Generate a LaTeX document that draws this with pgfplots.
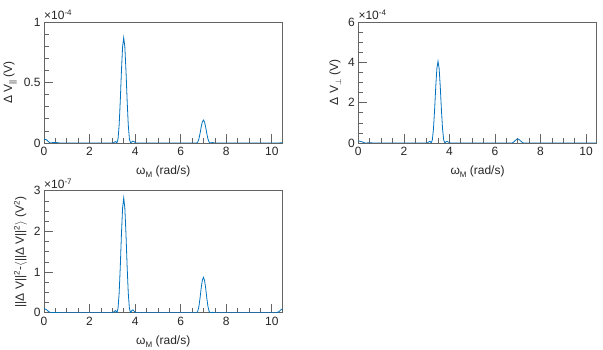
\documentclass[border=0pt]{standalone}
\usepackage{fontspec}
\setmainfont{Liberation Sans}
\usepackage{pgfplots}
\pgfplotsset{compat=1.18}
\definecolor{mblue}{RGB}{0,114,189}
\definecolor{axgray}{RGB}{100,100,100}
\definecolor{tickc}{RGB}{38,38,38}
\pgfplotsset{myax/.style={
  scale only axis, width=238.5pt, height=121pt,
  xmin=0, xmax=10.472, xtick={0,2,4,6,8,10}, minor x tick num=3,
  tick align=inside, tick pos=left,
  major tick length=9pt, minor tick length=5pt,
  tick style={color=axgray, line width=0.6pt},
  axis line style={color=axgray, line width=0.8pt},
  ticklabel style={font=\fontsize{12}{12}\selectfont, text=tickc},
  xticklabel style={yshift=-1pt},
  label style={font=\fontsize{12}{14}\selectfont, text=tickc},
  /pgf/number format/assume math mode=true,
  scaled y ticks=false, yticklabel style={/pgf/number format/fixed},
  xlabel={ω\raisebox{-0.5ex}{\footnotesize M} (rad/s)},
  xlabel style={yshift=-3pt},
  clip mode=individual,
}}
\tikzset{dl/.style={color=mblue, line width=0.8pt, mark=none}}
\begin{document}
\begin{tikzpicture}
% ---------------- plot 1
\begin{axis}[myax, at={(44pt,-143pt)}, anchor=south west,
  ymin=0, ymax=1, ytick={0,0.5,1}, minor y tick num=4,
  ylabel={Δ V\raisebox{-0.5ex}{\footnotesize ||} (V)}]
\addplot[dl] coordinates {
(0,0.026)(0.05,0.03)(0.1,0.028)(0.15,0.02)(0.2,0.01)(0.25,0.003)(0.3,0)(0.4,0.004)(0.5,0.005)(0.6,0.002)(0.7,0)
(1.0,0)(2.0,0)(3.0,0)(3.05,0.003)(3.1,0.008)(3.15,0.012)(3.2,0)
(3.25,0.032)(3.3,0.149)(3.35,0.352)(3.4,0.595)(3.45,0.793)(3.5,0.87)(3.55,0.793)(3.6,0.595)(3.65,0.352)(3.7,0.149)(3.75,0.032)(3.8,0)
(3.85,0.008)(3.9,0.015)(3.95,0.012)(4.0,0.005)(4.05,0)
(5.0,0)(6.0,0)(6.7,0)(6.75,0.007)(6.8,0.033)(6.85,0.077)(6.9,0.13)(6.95,0.173)(7.0,0.19)(7.05,0.173)(7.1,0.13)(7.15,0.077)(7.2,0.033)(7.25,0.007)(7.3,0)
(7.35,0.002)(7.4,0.004)(7.45,0.002)(7.5,0)(9.0,0)(10.3,0)(10.4,0.002)(10.472,0.003)
};
\node[anchor=south west, inner sep=0pt, font=\fontsize{12}{12}\selectfont, text=tickc] at (rel axis cs:0,1) [yshift=2pt] {×10\textsuperscript{-4}};
\end{axis}
% ---------------- plot 2
\begin{axis}[myax, at={(358.3pt,-143pt)}, anchor=south west,
  ymin=0, ymax=6, ytick={0,2,4,6}, minor y tick num=3,
  ylabel={Δ V\raisebox{-0.5ex}{\footnotesize$\perp$} (V)}]
\addplot[dl] coordinates {
(0,0.1)(0.1,0.08)(0.2,0.04)(0.3,0)(0.5,0.01)(0.7,0)
(1.0,0)(2.0,0)(3.0,0)(3.05,0.02)(3.1,0.06)(3.15,0.08)(3.2,0)
(3.25,0.148)(3.3,0.693)(3.35,1.64)(3.4,2.77)(3.45,3.69)(3.5,4.05)(3.55,3.69)(3.6,2.77)(3.65,1.64)(3.7,0.693)(3.75,0.148)(3.8,0)
(3.85,0.06)(3.9,0.08)(3.95,0.05)(4.0,0.02)(4.05,0)
(5.0,0)(6.0,0)(6.75,0)(6.8,0.03)(6.85,0.08)(6.9,0.13)(6.95,0.18)(7.0,0.2)(7.05,0.18)(7.1,0.13)(7.15,0.08)(7.2,0.03)(7.25,0)
(8.0,0)(10.472,0)
};
\node[anchor=south west, inner sep=0pt, font=\fontsize{12}{12}\selectfont, text=tickc] at (rel axis cs:0,1) [yshift=2pt] {×10\textsuperscript{-4}};
\end{axis}
% ---------------- plot 3
\begin{axis}[myax, at={(44pt,-312.7pt)}, anchor=south west, height=122pt,
  ymin=0, ymax=3, ytick={0,1,2,3}, minor y tick num=3,
  ylabel={||Δ V||\textsuperscript{2}-$\langle$||Δ V||\textsuperscript{2}$\rangle$ (V\textsuperscript{2})}]
\addplot[dl] coordinates {
(0,0.1)(0.1,0.08)(0.2,0.03)(0.3,0)(0.5,0.005)(0.7,0)
(1.0,0)(2.0,0)(3.0,0)(3.05,0.01)(3.1,0.04)(3.15,0.05)(3.2,0)
(3.25,0.103)(3.3,0.482)(3.35,1.14)(3.4,1.93)(3.45,2.57)(3.5,2.82)(3.55,2.57)(3.6,1.93)(3.65,1.14)(3.7,0.482)(3.75,0.103)(3.8,0)
(3.85,0.05)(3.9,0.07)(3.95,0.04)(4.0,0.01)(4.05,0)
(5.0,0)(6.0,0)(6.7,0)(6.75,0.032)(6.8,0.149)(6.85,0.352)(6.9,0.595)(6.95,0.793)(7.0,0.87)(7.05,0.793)(7.1,0.595)(7.15,0.352)(7.2,0.149)(7.25,0.032)(7.3,0)
(7.35,0.005)(7.4,0.01)(7.45,0.005)(7.5,0)(9.0,0)(10.2,0)(10.3,0.02)(10.4,0.07)(10.472,0.1)
};
\node[anchor=south west, inner sep=0pt, font=\fontsize{12}{12}\selectfont, text=tickc] at (rel axis cs:0,1) [yshift=2pt] {×10\textsuperscript{-7}};
\end{axis}
\pgfresetboundingbox
\path[use as bounding box] (0pt,-350pt) rectangle (603pt,0pt);
\end{tikzpicture}
\end{document}
